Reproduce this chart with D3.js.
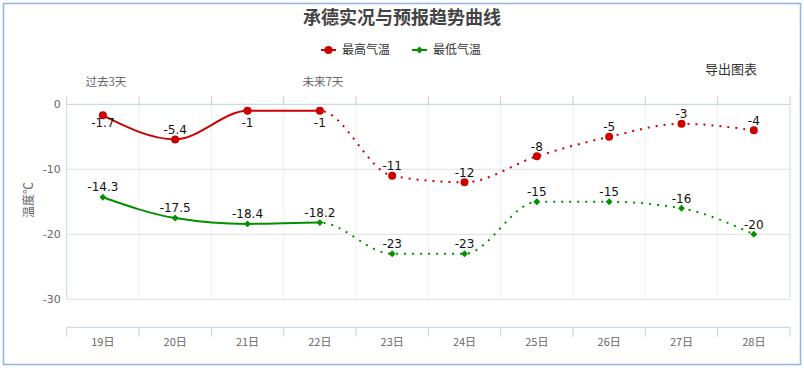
<!DOCTYPE html>
<html>
<head>
<meta charset="utf-8">
<script src="https://cdn.jsdelivr.net/npm/d3@7/dist/d3.min.js"></script>
<style>
  html, body { margin: 0; padding: 0; background: #fff; }
  svg { display: block; }
</style>
</head>
<body>
<script>
// chart data
const days = ['19日', '20日', '21日', '22日', '23日', '24日', '25日', '26日', '27日', '28日'];
const highTemp = [-1.7, -5.4, -1, -1, -11, -12, -8, -5, -3, -4];
const lowTemp = [-14.3, -17.5, -18.4, -18.2, -23, -23, -15, -15, -16, -20];
const yTicks = [0, -10, -20, -30];
const topLabels = [{ day: '19日', text: '过去3天' }, { day: '22日', text: '未来7天' }];
const lastObserved = '22日'; // solid up to here, dotted after

const width = 804, height = 368;
const plot = { left: 66.7, right: 790, top: 104.3, bottom: 299.3, axisY: 327.3 };
const cjk = '"Noto Sans CJK SC", "Noto Sans", sans-serif';
const num = '"DejaVu Sans", sans-serif';

const svg = d3.select('body').append('svg')
  .attr('width', width)
  .attr('height', height);

// outer frame
svg.append('rect')
  .attr('x', 3.5).attr('y', 3.5)
  .attr('width', 797).attr('height', 361)
  .attr('fill', 'none')
  .attr('stroke', '#8db5e2')
  .attr('stroke-width', 1.5);

const x = d3.scaleBand().domain(days).range([plot.left, plot.right]).padding(0);
const y = d3.scaleLinear().domain([0, -30]).range([plot.top, plot.bottom]);
const cx = d => x(d) + x.bandwidth() / 2;
const edges = days.map(d => x(d)).concat([plot.right]);

// grid
svg.append('g').selectAll('line')
  .data(edges.slice(1, -1))
  .join('line')
  .attr('x1', d => d).attr('x2', d => d)
  .attr('y1', plot.top).attr('y2', plot.bottom)
  .attr('stroke', '#efefef');

svg.append('g').selectAll('line')
  .data(yTicks.slice(1))
  .join('line')
  .attr('x1', plot.left).attr('x2', plot.right)
  .attr('y1', d => y(d)).attr('y2', d => y(d))
  .attr('stroke', '#e0e0e0');

// left/right frame lines of the plot
[plot.left, plot.right].forEach(px => {
  svg.append('line')
    .attr('x1', px).attr('x2', px)
    .attr('y1', plot.top).attr('y2', plot.bottom)
    .attr('stroke', '#c9d7ea');
});

// top axis (period labels)
svg.append('line')
  .attr('x1', plot.left).attr('x2', plot.right)
  .attr('y1', plot.top).attr('y2', plot.top)
  .attr('stroke', '#c0d0e6');
svg.append('g').selectAll('line')
  .data(edges)
  .join('line')
  .attr('x1', d => d).attr('x2', d => d)
  .attr('y1', plot.top).attr('y2', plot.top - 8.5)
  .attr('stroke', '#c0d0e6');
svg.append('g').selectAll('text')
  .data(topLabels)
  .join('text')
  .attr('x', d => cx(d.day) + 3)
  .attr('y', 82)
  .attr('dy', '0.35em')
  .attr('text-anchor', 'middle')
  .attr('font-family', cjk)
  .attr('font-size', '11.5px')
  .attr('fill', '#666')
  .text(d => d.text);

// bottom axis
svg.append('line')
  .attr('x1', plot.left).attr('x2', plot.right)
  .attr('y1', plot.axisY).attr('y2', plot.axisY)
  .attr('stroke', '#c0d0e6');
svg.append('g').selectAll('line')
  .data(edges)
  .join('line')
  .attr('x1', d => d).attr('x2', d => d)
  .attr('y1', plot.axisY).attr('y2', plot.axisY + 9.5)
  .attr('stroke', '#c0d0e6');
svg.append('g').selectAll('text')
  .data(days)
  .join('text')
  .attr('x', d => cx(d))
  .attr('y', 342.5)
  .attr('dy', '0.35em')
  .attr('text-anchor', 'middle')
  .attr('font-family', cjk)
  .attr('font-size', '11px')
  .attr('fill', '#666')
  .text(d => d);

// y axis
const yAxis = svg.append('g')
  .attr('transform', `translate(${plot.left},0)`)
  .call(d3.axisLeft(y).tickValues(yTicks).tickSize(0).tickPadding(6).tickFormat(d => String(d)));
yAxis.select('.domain').remove();
yAxis.selectAll('text')
  .attr('font-family', num)
  .attr('font-size', '11px')
  .attr('fill', '#666');

svg.append('text')
  .attr('transform', 'translate(29,200) rotate(-90)')
  .attr('text-anchor', 'middle')
  .attr('dy', '0.35em')
  .attr('font-family', cjk)
  .attr('font-size', '12px')
  .attr('fill', '#666')
  .text('温度℃');

// title
svg.append('text')
  .attr('x', 402).attr('y', 18)
  .attr('dy', '0.35em')
  .attr('text-anchor', 'middle')
  .attr('font-family', cjk)
  .attr('font-size', '18px')
  .attr('font-weight', 'bold')
  .attr('fill', '#444')
  .text('承德实况与预报趋势曲线');

// export button text
svg.append('text')
  .attr('x', 731).attr('y', 69)
  .attr('dy', '0.35em')
  .attr('text-anchor', 'middle')
  .attr('font-family', cjk)
  .attr('font-size', '13px')
  .attr('fill', '#333')
  .text('导出图表');

// series
const series = [
  { name: '最高气温', values: highTemp, color: '#cc0000', symbol: d3.symbolCircle, size: 50 },
  { name: '最低气温', values: lowTemp, color: '#009100', symbol: d3.symbolDiamond2, size: 30 }
];

const splitX = cx(lastObserved);
const defs = svg.append('defs');
defs.append('clipPath').attr('id', 'clip-solid')
  .append('rect').attr('x', 0).attr('y', 0).attr('width', splitX).attr('height', height);
defs.append('clipPath').attr('id', 'clip-dot')
  .append('rect').attr('x', splitX).attr('y', 0).attr('width', width - splitX).attr('height', height);

const line = d3.line()
  .x((d, i) => cx(days[i]))
  .y(d => y(d))
  .curve(d3.curveMonotoneX);

series.forEach(s => {
  svg.append('path')
    .attr('d', line(s.values))
    .attr('fill', 'none')
    .attr('stroke', s.color)
    .attr('stroke-width', 2)
    .attr('clip-path', 'url(#clip-solid)');
  svg.append('path')
    .attr('d', line(s.values))
    .attr('fill', 'none')
    .attr('stroke', s.color)
    .attr('stroke-width', 2)
    .attr('stroke-dasharray', '2,6')
    .attr('clip-path', 'url(#clip-dot)');

  svg.append('g').selectAll('path')
    .data(s.values)
    .join('path')
    .attr('transform', (d, i) => `translate(${cx(days[i])},${y(d)})`)
    .attr('d', d3.symbol().type(s.symbol).size(s.size))
    .attr('fill', s.color);

  // data labels, pushed below the point if they would leave the plot
  svg.append('g').selectAll('text')
    .data(s.values)
    .join('text')
    .attr('x', (d, i) => cx(days[i]))
    .attr('y', d => {
      const ly = y(d) - 10;
      return ly - 6 < plot.top ? plot.top + 18 : ly;
    })
    .attr('dy', '0.35em')
    .attr('text-anchor', 'middle')
    .attr('font-family', num)
    .attr('font-size', '12px')
    .attr('fill', '#111')
    .text(d => String(d));
});

// legend
const legend = svg.append('g');
series.forEach((s, i) => {
  const lx = 321 + i * 91;
  const g = legend.append('g').attr('transform', `translate(${lx},50)`);
  g.append('line')
    .attr('x1', 0).attr('x2', 15)
    .attr('stroke', s.color)
    .attr('stroke-width', 2);
  g.append('path')
    .attr('transform', 'translate(7.5,0)')
    .attr('d', d3.symbol().type(s.symbol).size(s.size))
    .attr('fill', s.color);
  g.append('text')
    .attr('x', 21)
    .attr('dy', '0.35em')
    .attr('font-family', cjk)
    .attr('font-size', '12px')
    .attr('fill', '#333')
    .text(s.name);
});
</script>
</body>
</html>
